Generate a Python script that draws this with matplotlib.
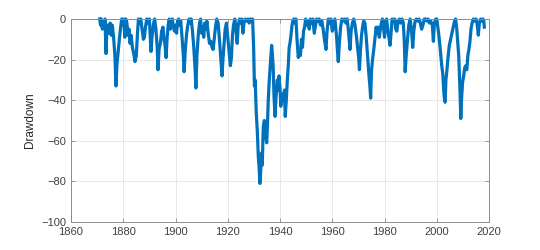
import matplotlib
matplotlib.use('Agg')
import matplotlib.pyplot as plt

# drawdown (%), (year, value) pairs
years = [
    1871.0, 1871.3, 1871.6, 1872.0, 1872.3, 1872.7, 1873.0, 1873.4, 1873.7, 1874.0,
    1874.5, 1875.0, 1875.4, 1875.8, 1876.3, 1876.8, 1877.2, 1877.6, 1878.0, 1878.5,
    1879.0, 1879.4, 1879.8, 1880.2, 1880.6, 1881.0, 1881.4, 1881.8, 1882.2, 1882.6,
    1883.0, 1883.5, 1884.0, 1884.5, 1885.0, 1885.4, 1885.8, 1886.3, 1886.7, 1887.2,
    1887.7, 1888.1, 1888.5, 1889.0, 1889.5, 1890.0, 1890.6, 1891.0, 1891.5, 1892.0,
    1892.5, 1893.0, 1893.3, 1893.7, 1894.2, 1894.7, 1895.2, 1895.6, 1896.0, 1896.4,
    1896.8, 1897.2, 1897.6, 1898.0, 1898.4, 1898.8, 1899.2, 1899.6, 1900.0, 1900.4,
    1900.8, 1901.2, 1901.6, 1902.0, 1902.5, 1903.0, 1903.3, 1903.7, 1904.2, 1904.7,
    1905.2, 1905.6, 1906.0, 1906.5, 1907.0, 1907.5, 1907.8, 1908.2, 1908.7, 1909.2,
    1909.6, 1910.0, 1910.4, 1910.8, 1911.2, 1911.6, 1912.0, 1912.5, 1913.0, 1913.5,
    1914.0, 1914.4, 1914.8, 1915.3, 1915.8, 1916.3, 1916.7, 1917.2, 1917.8, 1918.2,
    1918.6, 1919.0, 1919.5, 1920.0, 1920.5, 1921.0, 1921.4, 1921.8, 1922.2, 1922.7,
    1923.2, 1923.6, 1924.0, 1924.5, 1925.0, 1925.4, 1925.8, 1926.2, 1926.7, 1927.2,
    1927.7, 1928.2, 1928.6, 1929.0, 1929.5, 1929.9, 1930.2, 1930.5, 1930.9, 1931.3,
    1931.7, 1932.0, 1932.3, 1932.6, 1932.9, 1933.2, 1933.6, 1934.0, 1934.5, 1934.9,
    1935.2, 1935.5, 1935.9, 1936.3, 1936.8, 1937.1, 1937.4, 1937.7, 1938.1, 1938.5,
    1939.0, 1939.3, 1939.6, 1940.0, 1940.3, 1940.7, 1941.0, 1941.4, 1941.7, 1942.0,
    1942.4, 1942.8, 1943.2, 1943.5, 1943.8, 1944.2, 1944.6, 1944.9, 1945.3, 1945.7,
    1946.1, 1946.5, 1947.0, 1947.4, 1947.8, 1948.2, 1948.6, 1949.0, 1949.4, 1949.8,
    1950.3, 1950.7, 1951.2, 1951.6, 1952.1, 1952.6, 1953.1, 1953.5, 1954.0, 1954.5,
    1955.0, 1955.5, 1956.0, 1956.5, 1957.0, 1957.6, 1958.0, 1958.5, 1959.0, 1959.5,
    1960.0, 1960.5, 1961.0, 1961.6, 1962.0, 1962.3, 1962.7, 1963.2, 1963.7, 1964.2,
    1964.7, 1965.2, 1965.7, 1966.2, 1966.8, 1967.2, 1967.7, 1968.2, 1968.7, 1969.2,
    1969.7, 1970.1, 1970.4, 1970.8, 1971.2, 1971.6, 1972.0, 1972.5, 1973.0, 1973.5,
    1974.0, 1974.4, 1974.7, 1975.0, 1975.4, 1975.8, 1976.3, 1976.8, 1977.2, 1977.6,
    1978.0, 1978.4, 1978.8, 1979.2, 1979.6, 1980.0, 1980.4, 1980.8, 1981.3, 1981.8,
    1982.1, 1982.5, 1982.9, 1983.4, 1983.9, 1984.3, 1984.7, 1985.2, 1985.7, 1986.2,
    1986.7, 1987.2, 1987.6, 1987.9, 1988.3, 1988.8, 1989.3, 1989.8, 1990.3, 1990.8,
    1991.2, 1991.7, 1992.2, 1992.7, 1993.2, 1993.7, 1994.2, 1994.7, 1995.2, 1995.7,
    1996.2, 1996.7, 1997.2, 1997.7, 1998.3, 1998.7, 1999.1, 1999.6, 2000.0, 2000.4,
    2000.8, 2001.2, 2001.6, 2001.9, 2002.3, 2002.7, 2003.0, 2003.2, 2003.5, 2003.9,
    2004.3, 2004.8, 2005.3, 2005.8, 2006.3, 2006.8, 2007.2, 2007.6, 2008.0, 2008.4,
    2008.8, 2009.2, 2009.5, 2009.9, 2010.3, 2010.7, 2011.1, 2011.5, 2011.9, 2012.3,
    2012.7, 2013.1, 2013.5, 2014.0, 2014.5, 2015.0, 2015.5, 2015.9, 2016.3, 2016.8,
    2017.3, 2017.7, 2018.0, 2018.2,
]
drawdown = [
    0, -3, 0, -5, -1, -4, 0, -17, -6, -3,
    -7, -2, -8, -3, -9, -18, -33, -22, -17, -10,
    -4, 0, -3, 0, -9, 0, -2, -8, -5, -12,
    -8, -14, -17, -21, -18, -8, 0, -2, 0, -5,
    -10, -9, -4, 0, -2, 0, -16, -9, -3, 0,
    -5, -14, -25, -15, -12, -6, -4, -10, -13, -19,
    -9, -3, 0, -5, -2, 0, -4, -6, -3, -7,
    -1, 0, -3, -1, -9, -18, -26, -16, -8, -3,
    0, -2, 0, -6, -14, -25, -34, -18, -8, -2,
    0, -7, -4, -9, -2, -5, -1, -7, -12, -11,
    -14, -15, -10, -4, 0, -2, -8, -17, -28, -19,
    -12, -5, -2, -9, -16, -23, -19, -8, -3, 0,
    -6, -12, -3, 0, -2, 0, -7, -2, 0, -1,
    0, -2, 0, -1, 0, -14, -33, -30, -46, -55,
    -68, -73, -81, -75, -66, -72, -53, -50, -57, -61,
    -52, -40, -30, -22, -13, -18, -24, -38, -48, -38,
    -30, -35, -28, -34, -43, -38, -37, -40, -35, -48,
    -40, -30, -22, -14, -12, -8, -3, -1, 0, -2,
    0, -10, -19, -15, -18, -10, -14, -6, -4, 0,
    -3, -1, -5, 0, -2, 0, -7, -4, 0, -1,
    0, -3, -1, -5, -10, -15, -6, 0, -2, 0,
    -6, -3, 0, -8, -16, -21, -12, -4, 0, -1,
    0, -2, 0, -6, -15, -6, -2, 0, -3, -8,
    -14, -19, -25, -15, -8, -4, -1, -2, -9, -18,
    -27, -33, -39, -26, -20, -16, -10, -4, -7, -4,
    -9, -5, -2, 0, -4, -9, -1, 0, -6, -10,
    -13, -7, 0, -1, 0, -5, -6, -1, 0, -2,
    0, -2, -12, -26, -18, -10, -3, 0, -5, -14,
    -6, -1, 0, -1, 0, -2, -5, -3, 0, 0,
    -1, 0, -2, -1, -3, -11, -2, 0, 0, -4,
    -8, -13, -19, -23, -27, -36, -40, -41, -30, -25,
    -19, -13, -10, -7, -4, -1, 0, -4, -11, -18,
    -32, -49, -39, -31, -28, -24, -23, -25, -18, -15,
    -11, -5, -2, 0, -1, 0, -3, -8, -2, 0,
    -1, 0, -1, -4,
]

plt.rcParams['font.family'] = ['Liberation Sans', 'DejaVu Sans']

fig = plt.figure(figsize=(5.4, 2.5), dpi=100)
ax = fig.add_axes([0.1315, 0.112, 0.7741, 0.812])

ax.plot(years, drawdown, color='#0072BD', linewidth=2.3, clip_on=False)

ax.set_xlim(1860, 2020)
ax.set_ylim(-100, 0)
ax.set_xticks(range(1860, 2021, 20))
ax.set_yticks(range(-100, 1, 20))
ax.set_ylabel('Drawdown', fontsize=8.5, color='#262626')

ax.grid(True, color='#e3e3e3', linewidth=0.6)
ax.set_axisbelow(True)
for s in ax.spines.values():
    s.set_color('#8c8c8c')
    s.set_linewidth(0.7)
ax.tick_params(direction='in', length=3, width=0.6, color='#8c8c8c',
               labelsize=8, labelcolor='#404040', top=True, right=True)

fig.savefig('out.png', dpi=100)
